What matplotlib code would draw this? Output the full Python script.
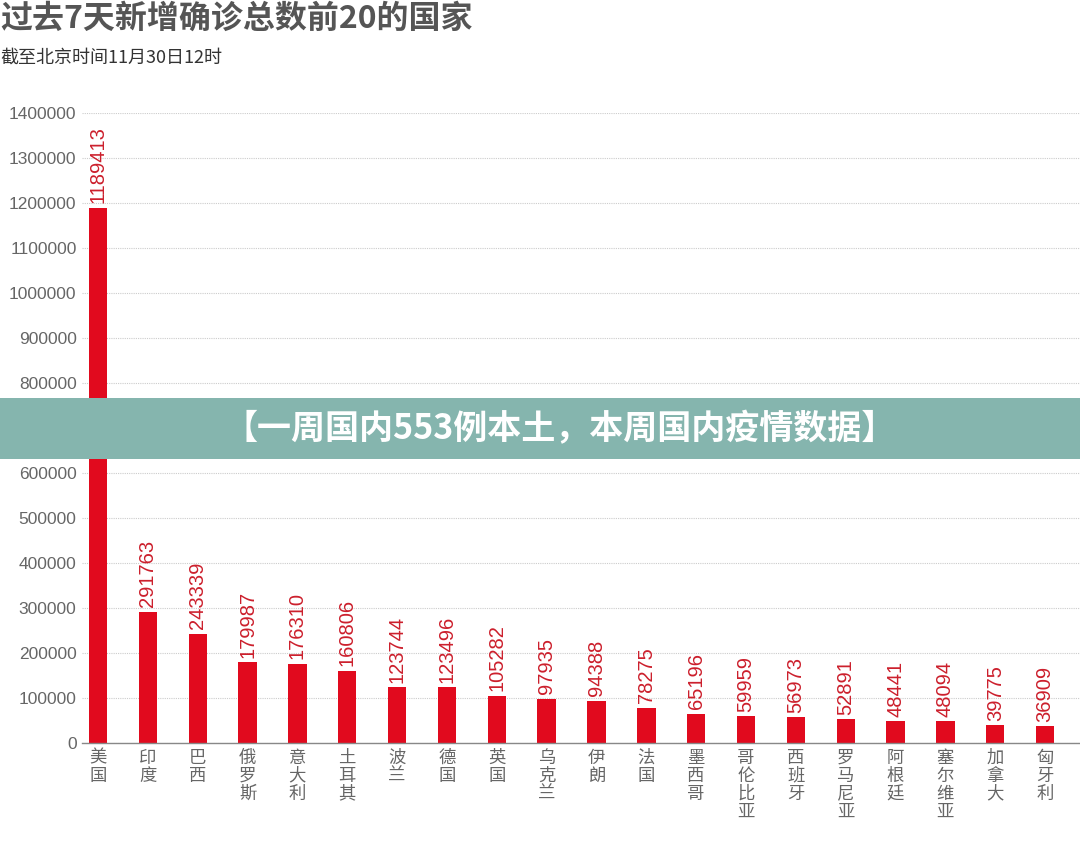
import matplotlib
matplotlib.use("Agg")
import matplotlib.pyplot as plt
from matplotlib.patches import Rectangle

plt.rcParams['font.family'] = ['Noto Sans CJK SC', 'DejaVu Sans']

# Data
countries = ["美国", "印度", "巴西", "俄罗斯", "意大利", "土耳其", "波兰", "德国", "英国", "乌克兰",
             "伊朗", "法国", "墨西哥", "哥伦比亚", "西班牙", "罗马尼亚", "阿根廷", "塞尔维亚", "加拿大", "匈牙利"]
cases = [1189413, 291763, 243339, 179987, 176310, 160806, 123744, 123496, 105282, 97935,
         94388, 78275, 65196, 59959, 56973, 52891, 48441, 48094, 39775, 36909]
yticks = list(range(0, 1400001, 100000))

title = "过去7天新增确诊总数前20的国家"
subtitle = "截至北京时间11月30日12时"
banner = "【一周国内553例本土，本周国内疫情数据】"

bar_color = "#e10a1e"
label_color = "#cc1f2c"
gray = "#555555"

fig = plt.figure(figsize=(10.8, 8.58), dpi=100)
ax = fig.add_axes([0.076, 0.134, 0.924, 0.734])

x = list(range(len(countries)))
ax.bar(x, cases, width=0.37, color=bar_color, zorder=3)

for xi, v in zip(x, cases):
    ax.text(xi, v + 10000, str(v), rotation=90, ha="center", va="bottom",
            color=label_color, fontsize=14.5, family=['Liberation Sans', 'DejaVu Sans'])

ax.set_xlim(-0.32, 19.7)
ax.set_ylim(0, 1400000)
ax.set_yticks(yticks)
ax.set_yticklabels([str(t) for t in yticks], color="#666666", fontsize=12.5,
                   family=['Liberation Sans', 'DejaVu Sans'])
ax.set_xticks(x)
ax.set_xticklabels(["\n".join(c) for c in countries], color="#666666", fontsize=12.5,
                   va="top", linespacing=1.0)
ax.tick_params(axis="both", length=0, pad=4)
ax.yaxis.grid(True, linestyle=(0, (1, 1)), color="#cccccc", linewidth=0.8, zorder=0)
for s in ["top", "right", "left"]:
    ax.spines[s].set_visible(False)
ax.spines["bottom"].set_color("#888888")
ax.spines["bottom"].set_linewidth(1.0)
ax.spines["bottom"].set_zorder(4)

fig.text(0.0, 0.978, title, fontsize=23, fontweight="bold", color=gray, ha="left", va="center")
fig.text(0.0, 0.933, subtitle, fontsize=13, color="#333333", ha="left", va="center")

# teal banner overlay
fig.patches.append(Rectangle((0, 1 - 459 / 858), 1, 61 / 858, transform=fig.transFigure,
                             facecolor="#85b5ae", edgecolor="none", zorder=10))
fig.text(0.518, 1 - 429 / 858, banner, fontsize=24.5, fontweight="bold", color="white",
         ha="center", va="center", zorder=11)

fig.savefig("out.png", dpi=100)
